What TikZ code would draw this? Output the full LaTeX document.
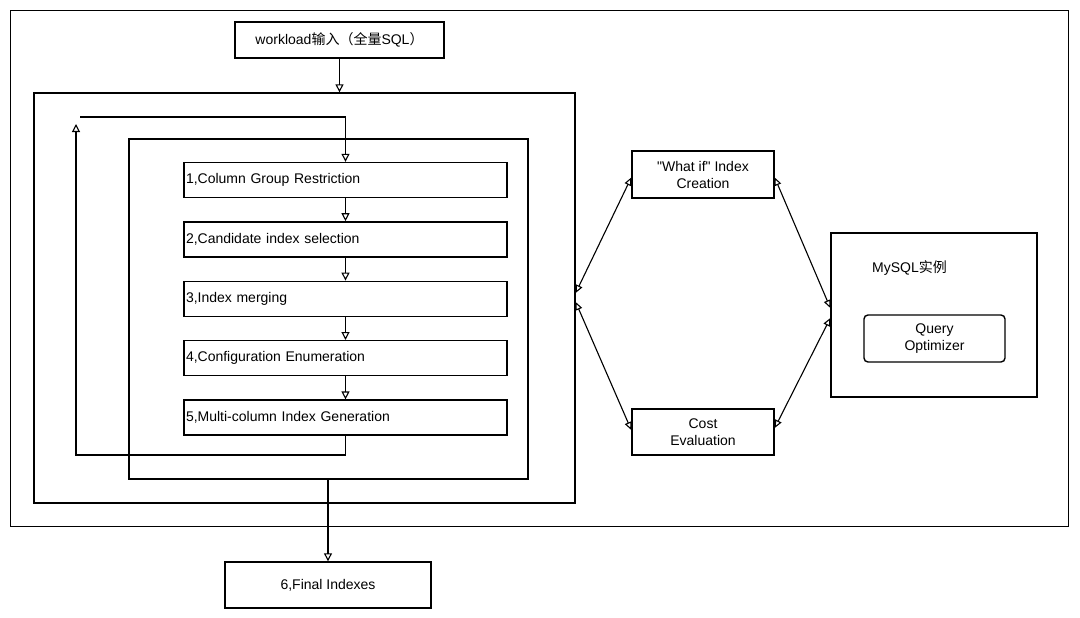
\documentclass[tikz,border=0pt]{standalone}
\usepackage{fontspec}
\setmainfont{Liberation Sans}
\newfontfamily\cjk{Noto Sans CJK SC}
\usetikzlibrary{arrows.meta, positioning}

\begin{document}
\begin{tikzpicture}[
    x=1pt, y=-1pt,
    font=\fontsize{14}{17}\selectfont,
    frame/.style={draw, line width=1.3pt, inner sep=0pt},
    box/.style={draw, line width=1.4pt, inner sep=2pt, align=center},
    stepbox/.style={draw, line width=1.4pt, text width=319pt, inner xsep=2pt,
                    minimum height=35pt, align=left},
    flow/.style={-{Triangle[open, length=8pt, width=8pt]}, line width=1.1pt},
    both/.style={{Triangle[open, length=8pt, width=7pt]}-{Triangle[open, length=8pt, width=7pt]}, line width=1.1pt}
]
    \useasboundingbox (0,0) rectangle (1080,618);

    % Frames
    \node[frame, line width=0.9pt, minimum width=1058pt, minimum height=516pt] (outer) at (539,268) {};
    \node[frame, minimum width=541pt, minimum height=410pt] (loopframe) at (304.5,298) {};
    \node[frame, minimum width=399pt, minimum height=340pt] (inner) at (328.5,309) {};

    % Input and output
    \node[box, minimum width=209pt, minimum height=36pt] (wl) at (339.5,40) {workload{\cjk 输入（全量}SQL{\cjk ）}};
    \node[box, minimum width=206pt, minimum height=46pt] (fin) at (328,585) {6,Final Indexes};

    % Steps
    \node[stepbox] (s1) at (345.5,180) {1,Column Group Restriction};
    \node[stepbox, below=23pt of s1] (s2) {2,Candidate index selection};
    \node[stepbox, below=23pt of s2] (s3) {3,Index merging};
    \node[stepbox, below=23pt of s3] (s4) {4,Configuration Enumeration};
    \node[stepbox, below=23pt of s4] (s5) {5,Multi-column Index Generation};

    % Right side
    \node[box, minimum width=142pt, minimum height=47pt] (whatif) at (703,174.5) {\textquotedbl What if\textquotedbl\ Index\\Creation};
    \node[box, minimum width=142pt, minimum height=46pt] (cost) at (703,432) {Cost\\Evaluation};
    \node[frame, minimum width=206pt, minimum height=164pt] (mysql) at (934,315) {};
    \node[right, inner sep=0pt] (mysqllbl) at (872,268) {MySQL{\cjk 实例}};
    \node[box, rounded corners=4pt, minimum width=141pt, minimum height=47pt] (qo) at (934.5,338.5) {Query\\Optimizer};

    % Loop corners
    \coordinate (loopbl) at (76,455);
    \coordinate (loopup) at (76,124);
    \coordinate (looptl) at (80,117);

    % Arrows
    \draw[flow] (wl.south) -- (wl.south |- loopframe.north);
    \foreach \a/\b in {s1/s2, s2/s3, s3/s4, s4/s5}
        \draw[flow] (\a.south) -- (\b.north);
    \draw[flow] (s5.south) |- (loopbl) -- (loopup);
    \draw[flow] (looptl) -| (s1.north);
    \draw[flow] (inner.south -| fin.north) -- (fin.north);

    \draw[both] ([yshift=5pt]loopframe.east) -- ([yshift=-3pt]whatif.west);
    \draw[both] ([yshift=-4pt]loopframe.east) -- ([yshift=2pt]cost.west);
    \draw[both] ([yshift=-3pt]whatif.east) -- ([yshift=7pt]mysql.west);
    \draw[both] ([yshift=4pt]cost.east) -- ([yshift=-3pt]mysql.west);

\end{tikzpicture}
\end{document}
